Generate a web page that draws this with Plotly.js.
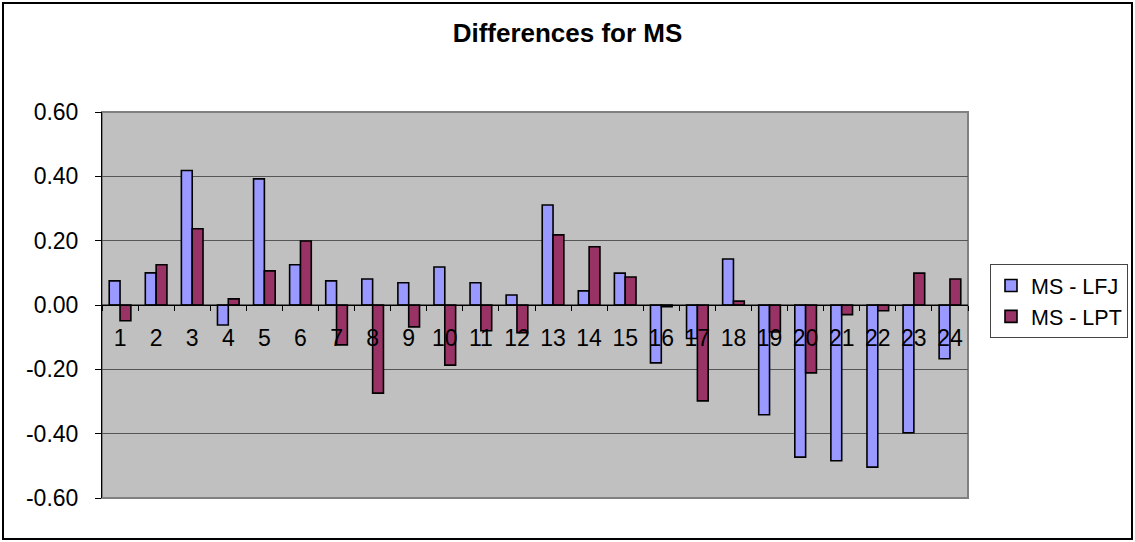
<!DOCTYPE html>
<html>
<head>
<meta charset="utf-8">
<script src="https://cdn.plot.ly/plotly-3.0.1.min.js"></script>
<style>
html,body{margin:0;padding:0;background:#fff;}
#chart{width:1135px;height:542px;}
</style>
</head>
<body>
<div id="chart"></div>
<script>
const categories = ['1','2','3','4','5','6','7','8','9','10','11','12','13','14','15','16','17','18','19','20','21','22','23','24'];
const msLFJ = [0.075, 0.100, 0.418, -0.062, 0.392, 0.125, 0.075, 0.081, 0.069, 0.118, 0.069, 0.031, 0.311, 0.044, 0.099, -0.180, -0.104, 0.143, -0.341, -0.473, -0.484, -0.504, -0.397, -0.167];
const msLPT = [-0.049, 0.125, 0.237, 0.019, 0.106, 0.199, -0.124, -0.274, -0.068, -0.187, -0.080, -0.086, 0.218, 0.181, 0.087, -0.005, -0.298, 0.012, -0.084, -0.211, -0.030, -0.018, 0.099, 0.081];
const yTickVals = [-0.6, -0.4, -0.2, 0, 0.2, 0.4, 0.6];
const yTickText = ['-0.60', '-0.40', '-0.20', '0.00', '0.20', '0.40', '0.60'];

const FONT = 'Liberation Sans, Arial, sans-serif';
const PW = 866, PH = 386, ML = 102, MT = 112, MB = 44, MR = 167;

const traces = [
  {type:'bar', name:'MS - LFJ', x:categories, y:msLFJ,
   marker:{color:'#9999FF', line:{color:'#000000', width:1.6}}},
  {type:'bar', name:'MS - LPT', x:categories, y:msLPT,
   marker:{color:'#993366', line:{color:'#000000', width:1.6}}}
];

const layout = {
  width:1135, height:542,
  paper_bgcolor:'#ffffff', plot_bgcolor:'#C0C0C0',
  margin:{l:ML, r:MR, t:MT, b:MB},
  barmode:'group', bargap:0.4, bargroupgap:0,
  font:{family:FONT, color:'#000000', size:23},
  title:{text:'<b>Differences for MS</b>', font:{family:FONT, size:26, color:'#000'},
         x:0.5, xref:'container', xanchor:'center', y:1-33/542, yref:'container', yanchor:'middle'},
  xaxis:{type:'category', anchor:'free', position:0.5, showline:true, linecolor:'#000', linewidth:1,
         ticks:'outside', tickson:'boundaries', ticklen:5, tickcolor:'#000', tickwidth:1,
         ticklabelstandoff:12,
         tickfont:{family:FONT, size:23, color:'#000'}, showgrid:false, zeroline:false, fixedrange:true},
  yaxis:{range:[-0.6, 0.6], tickvals:yTickVals, ticktext:yTickText, showline:true, linecolor:'#000', linewidth:1,
         ticks:'outside', ticklen:6, tickcolor:'#000', ticklabelstandoff:12,
         tickfont:{family:FONT, size:23, color:'#000'},
         showgrid:true, gridcolor:'#555555', gridwidth:1, zeroline:false, fixedrange:true},
  legend:{x:990/1135, xanchor:'left', y:(542-264)/542, yanchor:'top', yref:'container', xref:'container',
          bgcolor:'#ffffff', bordercolor:'#444', borderwidth:1, font:{family:FONT, size:21.5, color:'#000'},
          traceorder:'normal', itemwidth:30, tracegroupgap:4},
  shapes:[
    {type:'rect', xref:'paper', yref:'paper', x0:0, x1:1, y0:0, y1:1, line:{color:'#808080', width:2}, layer:'below'},
    {type:'line', xref:'paper', yref:'y', x0:0, x1:1, y0:0, y1:0, line:{color:'#000', width:1}},
    {type:'rect', xref:'paper', yref:'paper', x0:-(ML-3)/PW, x1:1+(MR-3)/PW, y0:-(MB-3)/PH, y1:1+(MT-3)/PH,
     line:{color:'#000', width:2}, fillcolor:'rgba(0,0,0,0)'}
  ],
  showlegend:true
};

Plotly.newPlot('chart', traces, layout, {displayModeBar:false, staticPlot:true});
</script>
</body>
</html>
